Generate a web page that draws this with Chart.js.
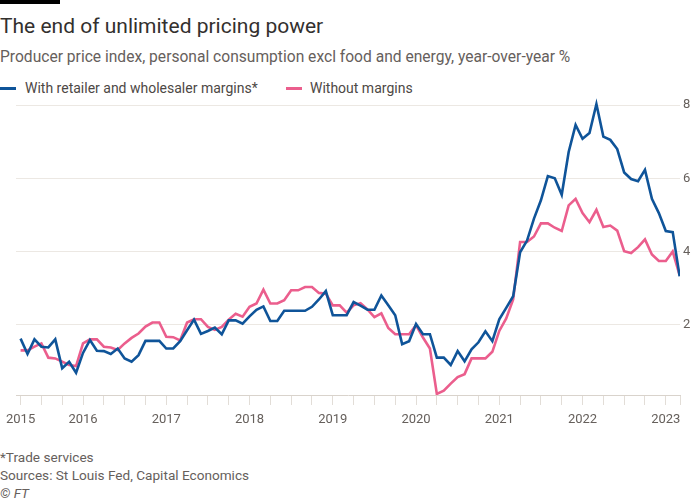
<!DOCTYPE html>
<html lang="en">
<head>
<meta charset="UTF-8">
<title>The end of unlimited pricing power</title>
<script src="https://cdn.jsdelivr.net/npm/chart.js"></script>
<style>
body {
    margin: 0;
    width: 700px;
    height: 500px;
    overflow: hidden;
    background: #fff;
    font-family: 'Roboto', sans-serif;
    position: relative;
}
.bar { position: absolute; left: 0; top: 0; width: 60px; height: 4px; background: #000; }
.title { position: absolute; left: 0; top: 13px; font-size: 21px; line-height: 26px; color: #33302e; }
.subtitle { position: absolute; left: 0; top: 48px; font-size: 15.6px; line-height: 19px; color: #66605c; }
.legend { position: absolute; left: 0; top: 79px; font-size: 14px; line-height: 18px; color: #4d4845; }
.legend span.item { position: absolute; white-space: nowrap; }
.legend i { position: absolute; top: 8px; width: 16px; height: 3px; }
.chart-box { position: absolute; left: 0; top: 87px; width: 700px; height: 343px; }
.note { position: absolute; left: 0; font-size: 13.6px; line-height: 18px; color: #66605c; white-space: nowrap; }
</style>
</head>
<body>
<div class="bar"></div>
<div class="title">The end of unlimited pricing power</div>
<div class="subtitle">Producer price index, personal consumption excl food and energy, year-over-year %</div>
<div class="legend">
    <i style="left:0; background:#0f5499"></i>
    <span class="item" style="left:25px">With retailer and wholesaler margins*</span>
    <i style="left:286px; background:#eb5e8d"></i>
    <span class="item" style="left:310px">Without margins</span>
</div>
<div class="chart-box"><canvas id="ppiChart"></canvas></div>
<div class="note" style="top:448px">*Trade services</div>
<div class="note" style="top:466px">Sources: St Louis Fed, Capital Economics</div>
<div class="note" style="top:484px; font-style:italic">© FT</div>

<script>
// monthly, Apr 2015 .. Mar 2023
var startYear = 2015;
var startMonth = 4;

var withMargins = [
    1.62, 1.20, 1.60, 1.40, 1.38, 1.60, 0.81, 0.99, 0.69, 1.23, 1.58, 1.29,
    1.28, 1.20, 1.35, 1.08, 0.99, 1.17, 1.56, 1.56, 1.56, 1.35, 1.35, 1.55,
    1.85, 2.14, 1.75, 1.83, 1.92, 1.74, 2.12, 2.12, 2.03, 2.23, 2.41, 2.50,
    2.10, 2.10, 2.38, 2.38, 2.38, 2.38, 2.49, 2.69, 2.92, 2.26, 2.26, 2.26,
    2.62, 2.52, 2.41, 2.41, 2.80, 2.53, 2.26, 1.47, 1.55, 2.02, 1.74, 1.74,
    1.10, 1.10, 0.90, 1.28, 1.00, 1.33, 1.52, 1.82, 1.55, 2.15, 2.46, 2.78,
    3.98, 4.30, 4.90, 5.40, 6.06, 6.00, 5.55, 6.72, 7.46, 7.08, 7.24, 8.03,
    7.14, 7.05, 6.80, 6.16, 5.98, 5.92, 6.23, 5.44, 5.05, 4.56, 4.53, 3.32
];

var withoutMargins = [
    1.30, 1.30, 1.40, 1.49, 1.10, 1.08, 0.99, 0.90, 0.87, 1.49, 1.60, 1.60,
    1.40, 1.38, 1.31, 1.49, 1.64, 1.76, 1.95, 2.06, 2.06, 1.67, 1.66, 1.57,
    2.06, 2.15, 2.15, 1.94, 1.86, 1.94, 2.14, 2.30, 2.22, 2.49, 2.58, 2.96,
    2.58, 2.58, 2.67, 2.94, 2.94, 3.03, 3.03, 2.87, 2.85, 2.53, 2.53, 2.33,
    2.53, 2.59, 2.42, 2.21, 2.31, 1.91, 1.74, 1.74, 1.74, 1.99, 1.65, 1.35,
    0.11, 0.20, 0.39, 0.57, 0.65, 1.08, 1.08, 1.08, 1.26, 1.83, 2.17, 2.69,
    4.26, 4.26, 4.41, 4.77, 4.77, 4.65, 4.56, 5.26, 5.44, 5.05, 4.80, 5.14,
    4.67, 4.71, 4.57, 4.01, 3.96, 4.12, 4.33, 3.92, 3.74, 3.74, 4.00, 3.35
];

var yearLabels = ['2015', '2016', '2017', '2018', '2019', '2020', '2021', '2022', '2023'];
var yTicks = [2, 4, 6, 8];

// x as fractional years
function toPoints(values) {
    return values.map(function (v, i) {
        return { x: startYear + (startMonth - 1 + i) / 12, y: v };
    });
}

var firstTick = startYear + (startMonth - 1) / 12;
var lastYear = parseInt(yearLabels[yearLabels.length - 1]);
var xMin = firstTick - 0.055;
var xMax = startYear + (startMonth - 1 + withMargins.length - 1) / 12 + 0.004;

var gray = '#66605c';

new Chart(document.getElementById('ppiChart'), {
    type: 'line',
    data: {
        datasets: [{
            label: 'With retailer and wholesaler margins*',
            data: toPoints(withMargins),
            borderColor: '#0f5499',
            borderWidth: 2.6,
            pointRadius: 0,
            tension: 0
        }, {
            label: 'Without margins',
            data: toPoints(withoutMargins),
            borderColor: '#eb5e8d',
            borderWidth: 2.6,
            pointRadius: 0,
            tension: 0
        }]
    },
    options: {
        responsive: true,
        maintainAspectRatio: false,
        animation: false,
        layout: { padding: { left: 16, top: 2, right: 0, bottom: 0 } },
        plugins: { legend: { display: false }, tooltip: { enabled: false } },
        scales: {
            x: {
                type: 'linear',
                min: xMin,
                max: xMax,
                afterBuildTicks: function (scale) {
                    var t = [];
                    for (var v = firstTick; v <= lastYear + 0.001; v += 0.25) t.push({ value: v });
                    t.push({ value: xMax });
                    scale.ticks = t;
                },
                afterFit: function (scale) {
                    scale.height = 35;
                    scale.paddingLeft = 0;
                    scale.paddingRight = 0;
                },
                grid: { drawOnChartArea: false, drawTicks: true, tickLength: 10, color: '#e2ddd7' },
                border: { display: true, color: '#d9d3cc', width: 1 },
                ticks: {
                    autoSkip: false,
                    maxRotation: 0,
                    padding: 7,
                    color: gray,
                    font: { family: 'Roboto', size: 13 },
                    callback: function (v) {
                        if (Math.abs(v - firstTick) < 1e-6) return yearLabels[0];
                        var idx = yearLabels.indexOf(String(Math.round(v)));
                        if (Math.abs(v - Math.round(v)) < 1e-6 && idx > 0) return yearLabels[idx];
                        return '';
                    }
                }
            },
            y: {
                position: 'right',
                min: 0.08,
                max: 8.2,
                afterBuildTicks: function (scale) {
                    scale.ticks = yTicks.map(function (v) { return { value: v }; });
                },
                afterFit: function (scale) { scale.width = 20; },
                grid: { drawTicks: false, color: '#ece8e3' },
                border: { display: false },
                ticks: {
                    padding: 3,
                    color: gray,
                    font: { family: 'Roboto', size: 13 }
                }
            }
        }
    }
});
</script>
</body>
</html>
